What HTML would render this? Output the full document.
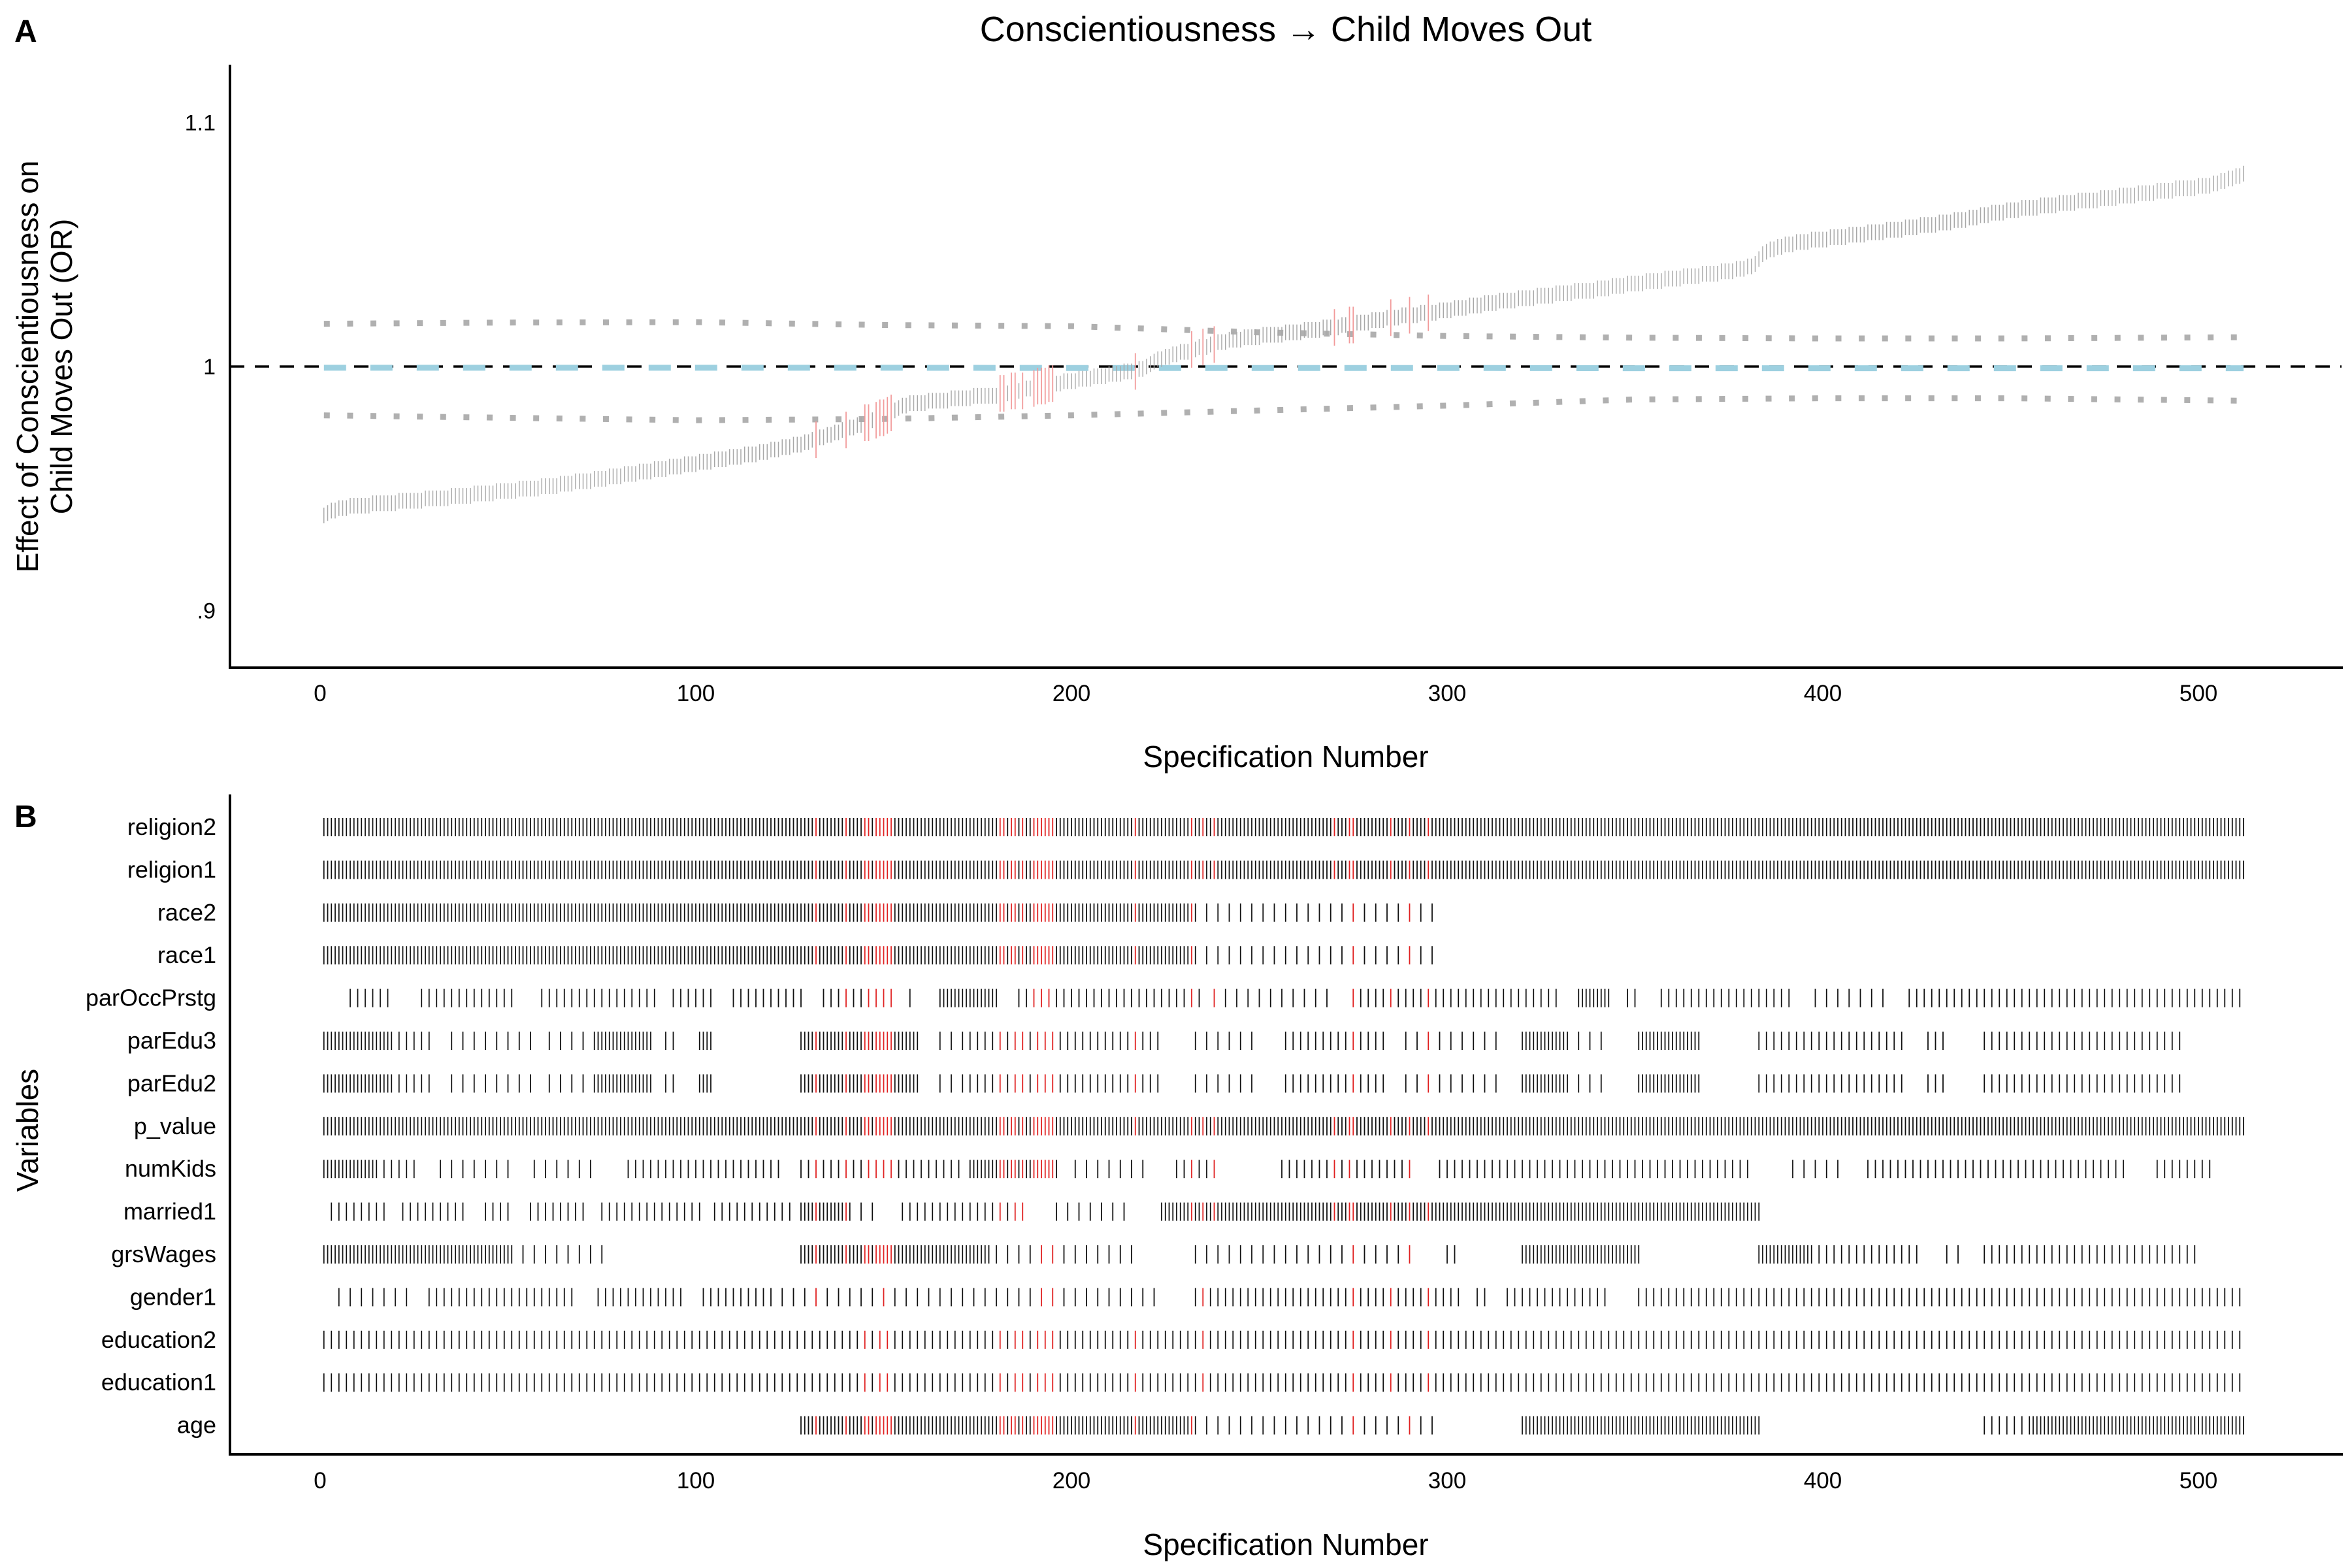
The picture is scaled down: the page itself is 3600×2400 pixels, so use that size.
<!DOCTYPE html>
<html><head><meta charset="utf-8"><style>html,body{margin:0;padding:0;background:#fff}svg{display:block}text{font-family:"Liberation Sans",Arial,sans-serif;fill:#000}</style></head>
<body>
<svg id="chart" xmlns="http://www.w3.org/2000/svg" width="3600" height="2400" viewBox="0 0 3600 2400">
<rect x="0" y="0" width="3600" height="2400" fill="#fff"/>
<g id="panelA"></g>
<g id="panelB"></g>
<g id="labels">
<text x="22" y="64" font-size="48" font-weight="bold">A</text>
<text x="22" y="1266" font-size="48" font-weight="bold">B</text>
<text x="1968" y="63" font-size="54" text-anchor="middle">Conscientiousness → Child Moves Out</text>
<text transform="translate(58,561) rotate(-90)" font-size="46" text-anchor="middle">Effect of Conscientiousness on</text>
<text transform="translate(110,561) rotate(-90)" font-size="46" text-anchor="middle">Child Moves Out (OR)</text>
<text x="1968" y="1174" font-size="46" text-anchor="middle">Specification Number</text>
<text x="1968" y="2380" font-size="46" text-anchor="middle">Specification Number</text>
<text transform="translate(58,1730) rotate(-90)" font-size="46" text-anchor="middle">Variables</text>
</g>
</svg>
<script>
const estimates = [
.939,.940,.941,.941,.942,.942,.942,.943,.943,.943,
.943,.943,.943,.944,.944,.944,.944,.944,.944,.944,
.945,.945,.945,.945,.945,.945,.945,.946,.946,.946,
.946,.946,.946,.946,.947,.947,.947,.947,.947,.947,
.948,.948,.948,.948,.948,.948,.949,.949,.949,.949,
.949,.949,.950,.950,.950,.950,.950,.950,.951,.951,
.951,.951,.951,.952,.952,.952,.952,.953,.953,.953,
.953,.953,.954,.954,.954,.954,.955,.955,.955,.955,
.956,.956,.956,.956,.957,.957,.957,.957,.958,.958,
.958,.958,.959,.959,.959,.959,.960,.960,.960,.960,
.961,.961,.961,.961,.962,.962,.962,.962,.963,.963,
.963,.963,.964,.964,.964,.964,.965,.965,.965,.966,
.966,.966,.967,.967,.967,.968,.968,.968,.969,.969,
.970,.970,.971,.971,.972,.972,.973,.973,.974,.974,
.975,.975,.976,.976,.977,.977,.978,.978,.979,.979,
.980,.981,.982,.983,.984,.984,.985,.985,.985,.985,
.985,.986,.986,.986,.986,.986,.986,.987,.987,.987,
.987,.987,.987,.988,.988,.988,.988,.988,.988,.988,
.989,.989,.989,.990,.990,.990,.990,.991,.991,.991,
.992,.992,.992,.993,.993,.993,.993,.994,.994,.994,
.994,.995,.995,.995,.995,.996,.996,.996,.996,.997,
.997,.997,.997,.998,.998,.998,.998,.999,.999,1.000,
1.001,1.002,1.003,1.003,1.004,1.004,1.005,1.005,1.006,1.006,
1.006,1.007,1.007,1.008,1.008,1.008,1.009,1.009,1.010,1.010,
1.010,1.011,1.011,1.011,1.011,1.012,1.012,1.012,1.012,1.012,
1.013,1.013,1.013,1.013,1.013,1.013,1.014,1.014,1.014,1.014,
1.014,1.015,1.015,1.015,1.015,1.015,1.016,1.016,1.016,1.016,
1.016,1.017,1.017,1.017,1.017,1.018,1.018,1.018,1.018,1.019,
1.019,1.019,1.019,1.020,1.020,1.020,1.020,1.021,1.021,1.021,
1.021,1.021,1.022,1.022,1.022,1.022,1.022,1.023,1.023,1.023,
1.023,1.024,1.024,1.024,1.024,1.025,1.025,1.025,1.025,1.026,
1.026,1.026,1.026,1.027,1.027,1.027,1.027,1.027,1.028,1.028,
1.028,1.028,1.028,1.029,1.029,1.029,1.029,1.029,1.030,1.030,
1.030,1.030,1.030,1.031,1.031,1.031,1.031,1.031,1.031,1.032,
1.032,1.032,1.032,1.033,1.033,1.033,1.033,1.034,1.034,1.034,
1.034,1.034,1.035,1.035,1.035,1.035,1.035,1.036,1.036,1.036,
1.036,1.036,1.037,1.037,1.037,1.037,1.037,1.038,1.038,1.038,
1.038,1.038,1.039,1.039,1.039,1.039,1.040,1.040,1.040,1.041,
1.041,1.042,1.044,1.046,1.047,1.048,1.048,1.049,1.049,1.050,
1.050,1.050,1.051,1.051,1.051,1.051,1.052,1.052,1.052,1.052,
1.052,1.053,1.053,1.053,1.053,1.053,1.054,1.054,1.054,1.054,
1.054,1.055,1.055,1.055,1.055,1.055,1.056,1.056,1.056,1.056,
1.056,1.057,1.057,1.057,1.057,1.058,1.058,1.058,1.058,1.058,
1.059,1.059,1.059,1.059,1.060,1.060,1.060,1.060,1.061,1.061,
1.061,1.062,1.062,1.062,1.063,1.063,1.063,1.063,1.064,1.064,
1.064,1.064,1.065,1.065,1.065,1.065,1.065,1.066,1.066,1.066,
1.066,1.066,1.067,1.067,1.067,1.067,1.067,1.068,1.068,1.068,
1.068,1.068,1.068,1.069,1.069,1.069,1.069,1.069,1.070,1.070,
1.070,1.070,1.070,1.071,1.071,1.071,1.071,1.071,1.072,1.072,
1.072,1.072,1.072,1.073,1.073,1.073,1.073,1.073,1.073,1.074,
1.074,1.074,1.074,1.075,1.075,1.076,1.076,1.077,1.077,1.078,
1.078,1.079];
const sigSpecs = [132,140,145,146,148,149,150,151,152,181,182,184,185,187,190,191,192,193,194,195,217,232,235,238,270,274,275,285,290,295];
const bandSpecs = [1,50,100,150,200,250,300,350,400,450,512];
const bandUpper = [1.0175,1.018,1.0182,1.017,1.0165,1.014,1.0125,1.0118,1.0115,1.0115,1.012];
const bandLower = [0.980,0.979,0.978,0.9785,0.980,0.982,0.984,0.9865,0.987,0.987,0.986];
const bandMedian = [0.9995,0.9995,0.9995,0.9995,0.9994,0.9994,0.9994,0.9993,0.9993,0.9993,0.9993];
const yTicks = [0.9,1.0,1.1];
const yTickLabels = [".9","1","1.1"];
const xTicks = [0,100,200,300,400,500];
const varNames = ["religion2","religion1","race2","race1","parOccPrstg","parEdu3","parEdu2","p_value","numKids","married1","grsWages","gender1","education2","education1","age"];
// inclusion segments per variable: [firstSpec, lastSpec, step]
const incReligion2 = [[1,512,1]];
const incReligion1 = [[1,512,1]];
const incRace2 = [[1,232,1],[233,296,3]];
const incRace1 = [[1,232,1],[233,296,3]];
const incParOcc = [[8,19,2],[27,52,2],[59,89,2],[94,104,2],[110,128,2],[134,152,2],[157,157,1],[165,180,1],[186,234,2],[238,269,3],[275,329,2],[335,343,1],[348,351,2],[357,391,2],[398,416,3],[423,511,2]];
const incParEdu3 = [[1,18,1],[19,30,2],[35,58,3],[61,72,3],[73,88,1],[92,95,2],[101,104,1],[128,159,1],[165,172,3],[173,223,2],[233,248,3],[257,283,2],[289,313,3],[320,331,1],[332,343,3],[351,367,1],[383,422,2],[428,433,2],[443,495,2]];
const incParEdu2 = [[1,18,1],[19,30,2],[35,58,3],[61,72,3],[73,88,1],[92,95,2],[101,104,1],[128,159,1],[165,172,3],[173,223,2],[233,248,3],[257,283,2],[289,313,3],[320,331,1],[332,343,3],[351,367,1],[383,422,2],[428,433,2],[443,495,2]];
const incPValue = [[1,512,1]];
const incNumKids = [[1,14,1],[15,26,2],[32,52,3],[57,74,3],[82,122,2],[128,170,2],[173,196,1],[201,220,3],[228,238,2],[256,291,2],[298,381,2],[392,405,3],[412,481,2],[489,504,2]];
const incMarried1 = [[3,18,2],[22,39,2],[44,51,2],[56,70,2],[75,102,2],[105,126,2],[128,140,1],[141,148,3],[155,188,2],[196,216,3],[224,383,1]];
const incGrsWages = [[1,50,1],[51,76,3],[128,178,1],[180,216,3],[233,291,3],[300,302,2],[320,351,1],[383,396,1],[397,425,2],[433,436,3],[443,499,2]];
const incGender1 = [[5,25,3],[29,68,2],[74,96,2],[102,118,2],[120,223,3],[233,303,2],[308,310,2],[316,343,2],[351,512,2]];
const incEducation2 = [[1,512,2]];
const incEducation1 = [[1,512,2]];
const incAge = [[128,232,1],[233,296,3],[320,383,1],[443,455,2],[456,512,1]];
const inclusions = [incReligion2,incReligion1,incRace2,incRace1,incParOcc,incParEdu3,incParEdu2,incPValue,incNumKids,incMarried1,incGrsWages,incGender1,incEducation2,incEducation1,incAge];

const NS = "http://www.w3.org/2000/svg";
function mk(tag, attrs, parent){const e=document.createElementNS(NS,tag);for(const k in attrs)e.setAttribute(k,attrs[k]);parent.appendChild(e);return e;}
const xS = s => 490 + 5.75*s;
const yA = v => 561 - 3737*(v-1);
const rowY = i => 1266 + 65.4*i;
const A = document.getElementById('panelA');
const B = document.getElementById('panelB');
const sigSet = new Set(sigSpecs);

let ax = mk('line',{x1:352,y1:99,x2:352,y2:1022,stroke:'#000','stroke-width':4},A);


ax = mk('line',{x1:350,y1:1022,x2:3586,y2:1022,stroke:'#000','stroke-width':4},A);


yTicks.forEach((v,i)=>{
  const t = mk('text',{x:330,y:yA(v)+12,'font-size':34,'text-anchor':'end'},A);
  t.textContent = yTickLabels[i];
  
  
});
xTicks.forEach(v=>{
  const t = mk('text',{x:xS(v),y:1073,'font-size':35,'text-anchor':'middle'},A);
  t.textContent = v;
  
  
  const t2 = mk('text',{x:xS(v),y:2278,'font-size':35,'text-anchor':'middle'},B);
  t2.textContent = v;
  
  
});
function bandPath(vals){return bandSpecs.map((s,i)=>(i?'L':'M')+xS(s).toFixed(1)+' '+yA(vals[i]).toFixed(1)).join(' ');}
let p = mk('path',{d:bandPath(bandUpper),fill:'none',stroke:'#b0b0b0','stroke-width':9,'stroke-dasharray':'9 26.6'},A);


p = mk('path',{d:bandPath(bandLower),fill:'none',stroke:'#b0b0b0','stroke-width':9,'stroke-dasharray':'9 26.6'},A);


p = mk('line',{x1:352,y1:yA(1),x2:3584,y2:yA(1),stroke:'#000','stroke-width':3.5,'stroke-dasharray':'22 16'},A);


p = mk('path',{d:bandPath(bandMedian),fill:'none',stroke:'#9dd0e0','stroke-width':9,'stroke-dasharray':'34 37'},A);


estimates.forEach((v,i)=>{
  const s=i+1, sig=sigSet.has(s);
  const h = sig?28:12;
  const l = mk('line',{x1:xS(s),x2:xS(s),y1:yA(v)-h,y2:yA(v)+h,stroke:sig?'#f29a9a':'#a8a8a8','stroke-width':sig?1.8:1.5},A);
  
  
});

ax = mk('line',{x1:352,y1:1216,x2:352,y2:2226,stroke:'#000','stroke-width':4},B);


ax = mk('line',{x1:350,y1:2226,x2:3586,y2:2226,stroke:'#000','stroke-width':4},B);


varNames.forEach((name,i)=>{
  const y=rowY(i);
  const t = mk('text',{x:331,y:y+12,'font-size':36,'text-anchor':'end'},B);
  t.textContent = name;
  
  
  inclusions[i].forEach(seg=>{
    for(let s=seg[0]; s<=seg[1]; s+=seg[2]){
      const sig=sigSet.has(s);
      const l = mk('line',{x1:xS(s),x2:xS(s),y1:y-14,y2:y+14,stroke:sig?'#e02020':'#111','stroke-width':1.8},B);
      
      
    }
  });
});
</script>
</body></html>
